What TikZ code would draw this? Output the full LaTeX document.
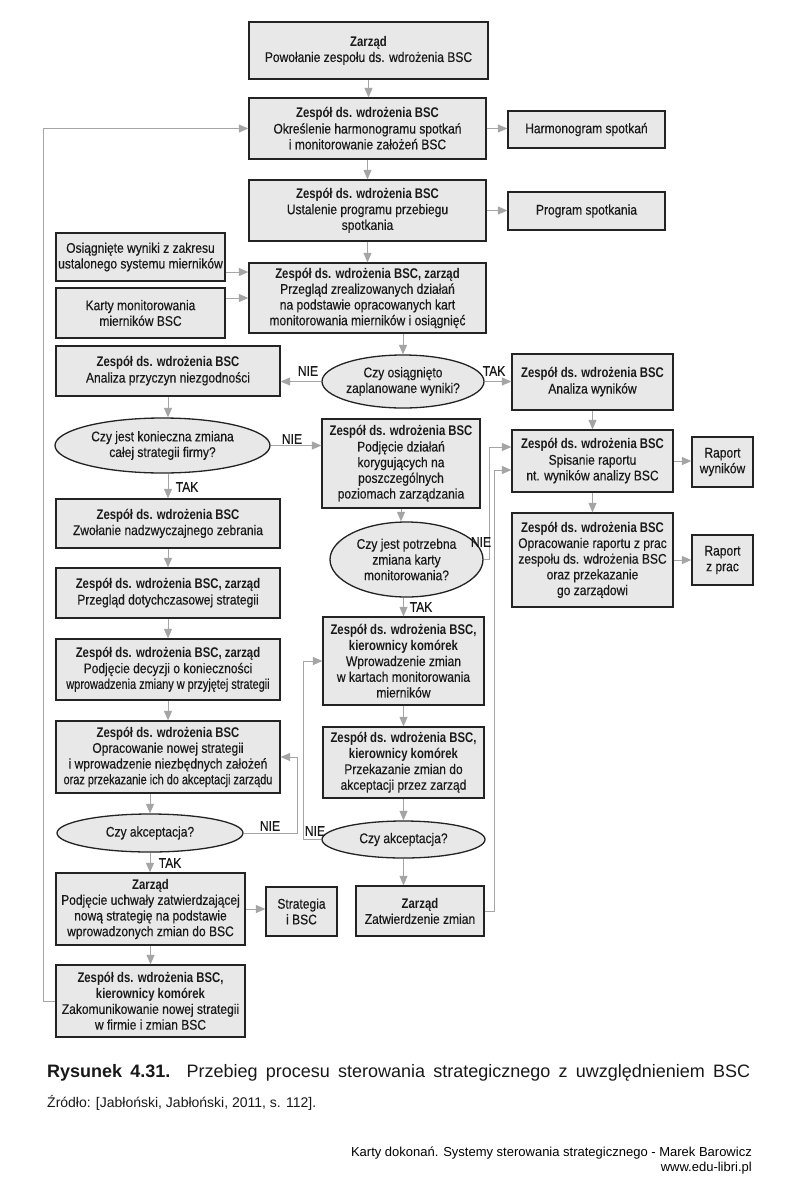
\documentclass[tikz,border=0pt]{standalone}
\usepackage{fontspec}
\setmainfont{Liberation Sans}[UprightFeatures={FakeStretch=0.86,FakeBold=0.35},BoldFeatures={FakeStretch=0.81}]
\newfontfamily\plainfont{Liberation Sans}
\newfontfamily\condfont{Liberation Sans}[FakeStretch=0.78,FakeBold=0.35]
\usetikzlibrary{arrows.meta,shapes.geometric,calc}
\definecolor{boxfill}{RGB}{232,232,232}
\definecolor{boxline}{RGB}{35,35,35}
\definecolor{conn}{RGB}{165,165,165}
\definecolor{txt}{RGB}{25,25,25}
\tikzset{
 base/.style={font=\fontsize{14}{15.7}\selectfont, text=txt},
 box/.style={base, draw=boxline, line width=1.3pt, fill=boxfill, align=center, inner sep=1pt},
 dec/.style={base, ellipse, draw=boxline, line width=1.3pt, fill=boxfill, align=center, inner sep=0pt},
 arr/.style={draw=conn, line width=1pt, -{Triangle[length=9.5pt,width=8pt]}},
 lbl/.style={base, inner sep=0pt},
}
\begin{document}
\begin{tikzpicture}[x=1pt,y=-1pt]
\fill[white] (0,0) rectangle (799,1189);
\useasboundingbox (0,0) rectangle (799,1189);

% top column
\node[box, minimum width=239pt, minimum height=57pt] (b1) at (368.5,50.5) {\textbf{Zarząd}\\Powołanie zespołu ds. wdrożenia BSC};
\node[box, minimum width=237pt, minimum height=61pt] (b2) at (367.5,128.5) {\textbf{Zespół ds. wdrożenia BSC}\\Określenie harmonogramu spotkań\\i monitorowanie założeń BSC};
\node[box, minimum width=157pt, minimum height=37pt] (h1) at (586.5,129.5) {Harmonogram spotkań};
\node[box, minimum width=237pt, minimum height=61pt] (b3) at (367.5,210.5) {\textbf{Zespół ds. wdrożenia BSC}\\Ustalenie programu przebiegu\\spotkania};
\node[box, minimum width=157pt, minimum height=38pt] (h2) at (586.5,211) {Program spotkania};
\node[box, minimum width=237pt, minimum height=70pt] (b4) at (367.5,298) {\textbf{Zespół ds. wdrożenia BSC, zarząd}\\Przegląd zrealizowanych działań\\na podstawie opracowanych kart\\monitorowania mierników i osiągnięć};
\node[box, minimum width=169pt, minimum height=48pt] (i1) at (140.5,257) {Osiągnięte wyniki z zakresu\\ustalonego systemu mierników};
\node[box, minimum width=169pt, minimum height=50pt] (i2) at (140.5,313) {Karty monitorowania\\mierników BSC};

% first decision
\node[dec, minimum width=162pt, minimum height=53pt] (d1) at (403,381.5) {Czy osiągnięto\\zaplanowane wyniki?};
\node[box, minimum width=161pt, minimum height=56pt] (b5) at (592.5,382) {\textbf{Zespół ds. wdrożenia BSC}\\Analiza wyników};
\node[box, minimum width=224pt, minimum height=50pt] (b6) at (168,371) {\textbf{Zespół ds. wdrożenia BSC}\\Analiza przyczyn niezgodności};

% right column
\node[box, minimum width=161pt, minimum height=62pt] (b8) at (592.5,461) {\textbf{Zespół ds. wdrożenia BSC}\\Spisanie raportu\\nt. wyników analizy BSC};
\node[box, minimum width=61pt, minimum height=50pt] (r1) at (722.5,462) {Raport\\wyników};
\node[box, minimum width=161pt, minimum height=94pt] (b9) at (592.5,560) {\textbf{Zespół ds. wdrożenia BSC}\\Opracowanie raportu z prac\\zespołu ds. wdrożenia BSC\\oraz przekazanie\\go zarządowi};
\node[box, minimum width=61pt, minimum height=50pt] (r2) at (722.5,560) {Raport\\z prac};

% left column
\node[dec, minimum width=215pt, minimum height=55pt] (d2) at (162.5,445.5) {Czy jest konieczna zmiana\\całej strategii firmy?};
\node[box, minimum width=224pt, minimum height=49pt] (b10) at (168,523.5) {\textbf{Zespół ds. wdrożenia BSC}\\Zwołanie nadzwyczajnego zebrania};
\node[box, minimum width=224pt, minimum height=50pt] (b11) at (168,593) {\textbf{Zespół ds. wdrożenia BSC, zarząd}\\Przegląd dotychczasowej strategii};
\node[box, minimum width=224pt, minimum height=61pt] (b13) at (168,669.5) {\textbf{Zespół ds. wdrożenia BSC, zarząd}\\Podjęcie decyzji o konieczności\\{\condfont wprowadzenia zmiany w przyjętej strategii}};
\node[box, minimum width=224pt, minimum height=72pt] (b15) at (168,757) {\textbf{Zespół ds. wdrożenia BSC}\\Opracowanie nowej strategii\\i wprowadzenie niezbędnych założeń\\{\condfont oraz przekazanie ich do akceptacji zarządu}};
\node[dec, minimum width=186pt, minimum height=38pt] (d4) at (150,833) {Czy akceptacja?};
\node[box, minimum width=189pt, minimum height=72pt] (b16) at (150.5,909) {\textbf{Zarząd}\\Podjęcie uchwały zatwierdzającej\\nową strategię na podstawie\\wprowadzonych zmian do BSC};
\node[box, minimum width=71pt, minimum height=49pt] (s1) at (301.5,911.5) {Strategia\\i BSC};
\node[box, minimum width=189pt, minimum height=72pt] (b18) at (150.5,1001) {\textbf{Zespół ds. wdrożenia BSC,}\\\textbf{kierownicy komórek}\\Zakomunikowanie nowej strategii\\w firmie i zmian BSC};

% middle column
\node[box, minimum width=158pt, minimum height=89pt] (b7) at (401,463.5) {\textbf{Zespół ds. wdrożenia BSC}\\Podjęcie działań\\korygujących na\\poszczególnych\\poziomach zarządzania};
\node[dec, minimum width=153pt, minimum height=75pt] (d3) at (406.5,559.5) {Czy jest potrzebna\\zmiana karty\\monitorowania?};
\node[box, minimum width=161pt, minimum height=88pt] (b12) at (403.5,661) {\textbf{Zespół ds. wdrożenia BSC,}\\\textbf{kierownicy komórek}\\Wprowadzenie zmian\\w kartach monitorowania\\mierników};
\node[box, minimum width=161pt, minimum height=71pt] (b14) at (403.5,762.5) {\textbf{Zespół ds. wdrożenia BSC,}\\\textbf{kierownicy komórek}\\Przekazanie zmian do\\akceptacji przez zarząd};
\node[dec, minimum width=163pt, minimum height=37pt] (d5) at (403.5,839.5) {Czy akceptacja?};
\node[box, minimum width=128pt, minimum height=50pt] (b17) at (420,911) {\textbf{Zarząd}\\Zatwierdzenie zmian};

% helper coordinates
\coordinate (ya) at (0,272);
\coordinate (yb) at (0,298);

% connectors
\draw[arr] (b1.south) -- (b1.south |- b2.north);
\draw[arr] (b2.east) -- (b2.east -| h1.west);
\draw[arr] (b2.south) -- (b2.south |- b3.north);
\draw[arr] (b3.east) -- (b3.east -| h2.west);
\draw[arr] (b3.south) -- (b3.south |- b4.north);
\draw[arr] (i1.east |- ya) -- (b4.west |- ya);
\draw[arr] (i2.east |- yb) -- (b4.west |- yb);
\draw[arr] (d1.north |- b4.south) -- (d1.north);
\draw[arr] (d1.west) -- (d1.west -| b6.east);
\draw[arr] (d1.east) -- (d1.east -| b5.west);
\draw[arr] (b5.south) -- (b8.north);
\draw[arr] (b8.east) -- (b8.east -| r1.west);
\draw[arr] (b8.south) -- (b9.north);
\draw[arr] (b9.east) -- (b9.east -| r2.west);
\draw[arr] (b6.south) -- (b6.south |- d2.north);
\draw[arr] (d2.east) -- (d2.east -| b7.west);
\draw[arr] (b10.north |- d2.south) -- (b10.north);
\draw[arr] (b10.south) -- (b11.north);
\draw[arr] (b11.south) -- (b13.north);
\draw[arr] (b13.south) -- (b15.north);
\draw[arr] (b7.south) -- (b7.south |- d3.north);
\draw[arr] (d3.east) -- ++(6,0) |- ($(b8.west)+(0,-14)$);
\draw[arr] (b12.north |- d3.south) -- (b12.north);
\draw[arr] (b12.south) -- (b14.north);
\draw[arr] (b14.south) -- (d5.north);
\draw[arr] (d5.south) -- (d5.south |- b17.north);
\draw[arr] (d5.west) -- ++(-18,0) |- (b12.west);
\draw[arr] (b17.east) -- ++(10,0) |- ($(b8.west)+(0,9)$);
\draw[arr] (b15.south -| d4.north) -- (d4.north);
\draw[arr] (d4.east) -- ++(54,0) |- (b15.east);
\draw[arr] (d4.south) -- (d4.south |- b16.north);
\draw[arr] (b16.east) -- (b16.east -| s1.west);
\draw[arr] (b16.south) -- (b18.north);
\draw[arr] (b18.west) -- ++(-12,0) |- (b2.west);

% labels
\node[lbl] (l1) at (308,371) {NIE};
\node[lbl] (l2) at (494,371) {TAK};
\node[lbl] (l3) at (292,439) {NIE};
\node[lbl] (l4) at (187,487) {TAK};
\node[lbl] (l5) at (481,542) {NIE};
\node[lbl] (l6) at (421,607) {TAK};
\node[lbl] (l7) at (270,826) {NIE};
\node[lbl] (l8) at (170,863) {TAK};
\node[lbl] (l9) at (315,831) {NIE};

% caption
\node[anchor=base west, inner sep=0pt, text=txt] (cap) at (47,1077) {\plainfont\fontsize{18}{21}\selectfont\makebox[703pt][s]{\textbf{Rysunek 4.31.} Przebieg procesu sterowania strategicznego z uwzględnieniem BSC}};
\node[anchor=base west, inner sep=0pt, text=txt] (src) at (47,1107) {\plainfont\fontsize{14}{17}\selectfont Źródło: [Jabłoński, Jabłoński, 2011, s. 112].};
\node[anchor=base east, inner sep=0pt] (f1) at (752,1156) {\plainfont\fontsize{13}{15}\selectfont Karty dokonań. Systemy sterowania strategicznego - Marek Barowicz};
\node[anchor=base east, inner sep=0pt] (f2) at (752,1171) {\plainfont\fontsize{13}{15}\selectfont www.edu-libri.pl};
\end{tikzpicture}
\end{document}
